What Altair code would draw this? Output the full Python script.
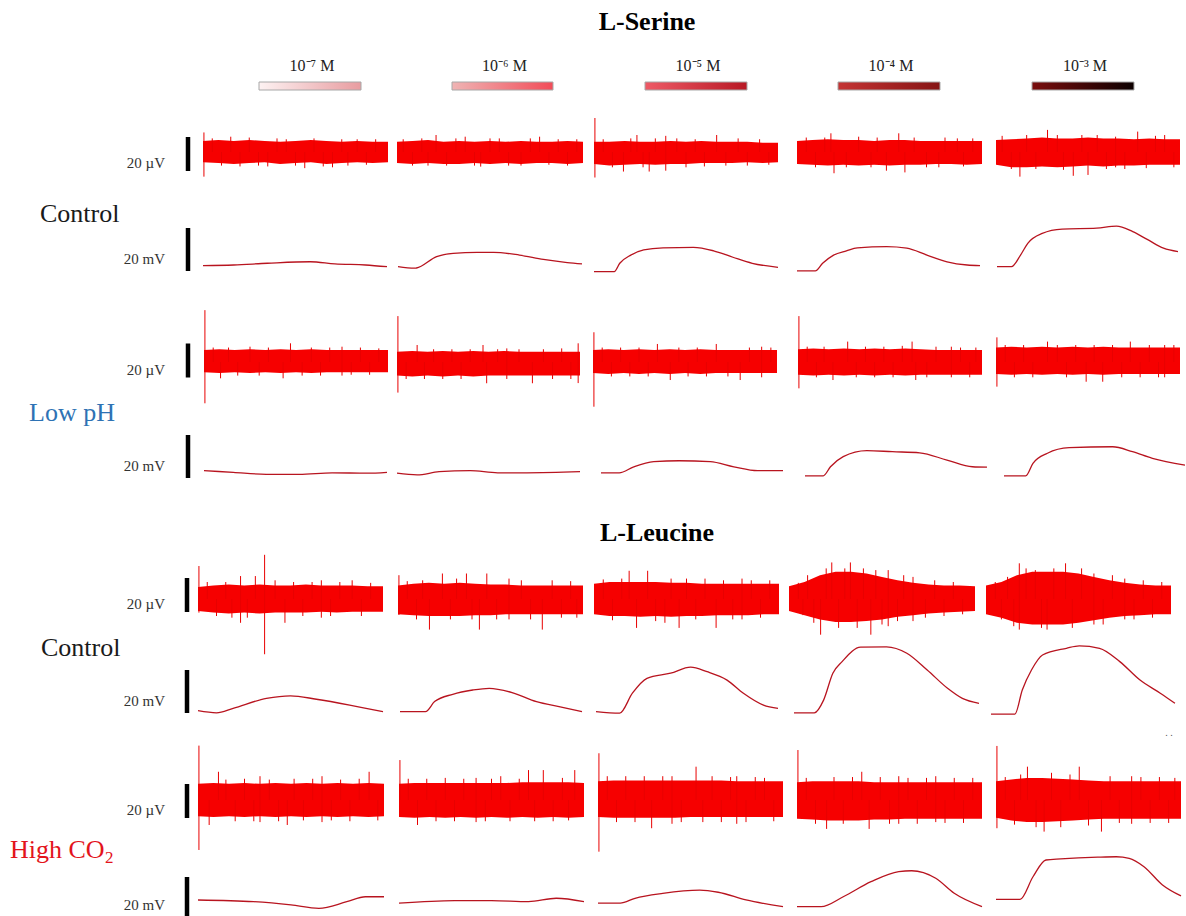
import altair as alt
import pandas as pd

# ------------------------------------------------------------------ data
T_END = 60  # s, length of every recording window
AMINO_ACIDS = ["L-Serine", "L-Leucine"]
CONCENTRATIONS = ["10⁻⁷ M", "10⁻⁶ M", "10⁻⁵ M", "10⁻⁴ M", "10⁻³ M"]
CONDITIONS = ["Control", "Low pH", "Control", "High CO"]
SCALE_UV = 20   # µV scale bar
SCALE_MV = 20   # mV scale bar

ENV_T = [0, 5, 10, 15, 20, 25, 30, 35, 40, 45, 50, 55, 60]

# ---- EOA (µV): upper / lower envelope of the noise band, and spikes (t, top, bottom)
SER_CTRL_EOA_UP = [
    [6.5, 7, 6.5, 7, 6.5, 6, 6.5, 7, 6.5, 6, 6.5, 6, 6],
    [6, 6.5, 7, 6, 6.5, 6, 6.5, 6, 6.5, 6, 6, 6.5, 6],
    [6, 6, 6.5, 6, 6, 6.5, 6, 6.5, 6, 6, 6, 5.5, 5.5],
    [6.5, 7, 7.5, 7, 7, 6.5, 7, 7, 6.5, 6.5, 6.5, 6.5, 6.5],
    [7, 7.5, 8, 8.5, 8, 8, 8.5, 8, 8, 7.5, 8, 7.5, 7.5],
]
SER_CTRL_EOA_LO = [
    [-6, -6.5, -7, -6.5, -6, -7, -6.5, -6, -7, -6.5, -6, -6.5, -6],
    [-6.5, -7, -6.5, -7, -7, -6.5, -7, -6.5, -7, -6.5, -6.5, -7, -6.5],
    [-7, -8, -7.5, -7, -7.5, -7, -7, -6.5, -6.5, -6.5, -6, -6.5, -6],
    [-7, -7.5, -8, -7.5, -8, -7.5, -8, -7.5, -7.5, -7, -7, -7.5, -7],
    [-7.5, -9, -9, -8.5, -9, -8.5, -8, -8.5, -8, -8, -7.5, -7.5, -7.5],
]
SER_CTRL_EOA_SPIKES = [
    [(0.3, 11.5, -14.5), (3, 8, 0), (6, 0, -8), (9, 9, 0), (12, 0, -8.5), (15, 8.5, 0), (18, 0, -8), (21, 0, -8.5),
     (24, 8, 0), (27, 7.5, 0), (30, 0, -8), (33, 0, -9.5), (36, 8, 0), (39, 0, -8.5), (42, 0, -9), (45, 7.5, 0),
     (47, 0, -8), (50, 7.5, 0), (53, 0, -7.5), (56, 7.5, 0)],
    [(2, 7.5, 0), (5, 0, -8), (8, 8, 0), (10, 0, -8), (12.6, 10, 0), (16, 0, -8), (19, 8, 0), (22, 9, 0), (25, 0, -8),
     (27, 0, -8.6), (30, 8, 0), (33, 8, 0), (36, 0, -8), (40, 0, -8), (43, 8, 0), (46, 9, 0), (49, 0, -7.5),
     (52, 7.5, 0), (55, 0, -8), (58, 7.5, 0)],
    [(0.3, 20, -15), (3, 7.5, 0), (6, 0, -9), (9.6, 0, -11.5), (12, 8, 0), (14, 10, 0), (16, 0, -9), (18, 0, -11.5),
     (20, 8, 0), (23.4, 9.5, -11), (27, 8, 0), (30, 0, -9), (33, 7.5, 0), (36, 0, -8.5), (40, 10, 0), (43, 0, -8),
     (47, 8, 0), (50, 0, -8), (54, 7.5, 0), (57, 0, -7.5)],
    [(3, 8.5, 0), (6, 0, -9), (9, 8.5, 0), (11, 11, 0), (12, 0, -12.5), (16, 0, -9), (20, 9, 0), (24, 0, -9),
     (26, 8.5, 0), (29, 0, -11), (33, 11, 0), (35, 0, -12), (38, 8.5, 0), (42, 0, -9), (46, 0, -9), (48, 8.5, 0),
     (52, 8, 0), (54, 0, -8.5), (57, 8, 0)],
    [(2, 9.5, 0), (5, 0, -10), (7.8, 0, -14.5), (10, 10, 0), (13, 0, -10), (16.8, 13, 0), (20, 10, 0), (22, 0, -10.5),
     (25.2, 0, -14), (28, 10, 0), (30, 0, -13.5), (33, 10, 0), (36, 0, -10), (39, 9, -9), (42, 0, -10),
     (46.2, 12, 0), (49, 0, -9.5), (52, 9.5, 0), (55, 10, 0), (58, 0, -9)],
]

LOWPH_EOA_UP = [
    [7, 7.5, 7, 7.5, 7, 7.5, 7, 7.5, 7, 7, 7, 7, 7],
    [6, 6.5, 6, 6.5, 6, 6.5, 6, 6.5, 6, 6, 6, 6, 6],
    [7, 7.5, 7, 7.5, 7, 7.5, 7, 7.5, 7, 7, 7, 7, 7],
    [7.5, 8, 7.5, 8, 7.5, 8, 7.5, 8, 7.5, 7, 7, 7, 7],
    [8.5, 9, 8.5, 9, 8.5, 9, 8.5, 9, 8.5, 8.5, 8.5, 8.5, 8.5],
]
LOWPH_EOA_LO = [
    [-6, -6.5, -6, -6.5, -6, -6.5, -6, -6.5, -6, -6, -6, -6, -6],
    [-8, -8.5, -8, -8.5, -8, -8.5, -8, -8, -8, -8, -8, -8, -8],
    [-6.5, -7, -6.5, -7, -6.5, -7, -6.5, -7, -6.5, -6.5, -6.5, -6.5, -6.5],
    [-7.5, -8, -7.5, -8, -7.5, -8, -7.5, -8, -7.5, -7.5, -7.5, -7.5, -7.5],
    [-7, -7.5, -7, -7.5, -7, -7.5, -7, -7.5, -7, -7, -7, -7, -7],
]
LOWPH_EOA_SPIKES = [
    [(0.3, 30.5, -24.3), (3, 8.5, 0), (5.4, 0, -9.6), (8, 8.5, 0), (11, 0, -8), (15, 9, 0), (18, 0, -8),
     (21, 8.5, 0), (25.8, 0, -9.6), (28.2, 11, 0), (32, 0, -8), (35, 8.5, 0), (38, 0, -8), (41, 8.5, 0),
     (45, 9, -8), (48, 0, -7.5), (51, 8.5, 0), (54, 0, -7.5), (57, 8, 0)],
    [(0.3, 27, -18), (3, 0, -10), (6.6, 10, 0), (9, 0, -10), (12, 7.5, 0), (15, 0, -10), (18, 7.5, 0), (21, 0, -10),
     (24, 7.5, 0), (28.2, 10, 0), (29.4, 0, -12.5), (33, 7.5, 0), (36, 8, -10), (40, 7.5, 0), (44.4, 0, -12.5),
     (48, 7.5, 0), (51, 0, -10), (54, 8, 0), (57, 0, -10), (59.4, 11, -12.4)],
    [(0.3, 17.5, -26.3), (3, 8.5, 0), (6, 0, -8.5), (9, 8.5, 0), (12, 0, -8.5), (15, 8.5, 0), (18, 0, -8.5),
     (21, 10.6, 0), (25.2, 0, -10.6), (28, 8.5, 0), (31, 0, -8.5), (34, 8.5, 0), (37, 0, -8.5), (40.2, 10.6, 0),
     (44, 0, -8.5), (48, 0, -10.6), (51, 8.5, 0), (55, 9, -9), (58, 8.5, 0)],
    [(0.3, 27, -15.5), (3, 9, 0), (6, 0, -9), (8.5, 9, 0), (11.4, 0, -10.6), (16.2, 12, 0), (19, 0, -9),
     (22, 9, 0), (25, 0, -9), (28, 9, 0), (31, 0, -9), (34, 9.5, 0), (37.2, 12, 0), (38.4, 0, -10.6), (42, 0, -9),
     (45, 9, 0), (50, 9, -9), (53, 8.5, 0), (56, 0, -9), (58, 8.5, 0)],
    [(0.3, 14.5, -14.5), (3, 10, 0), (6, 0, -9), (9, 10, 0), (12, 0, -9), (16.8, 12, 0), (20, 10, 0), (23, 0, -9),
     (26, 10, 0), (29.4, 0, -11.6), (32, 10, 0), (34.8, 0, -11.6), (38, 10, 0), (41, 0, -9), (43.8, 12, 0),
     (47, 0, -9), (50, 10, 0), (53, 0, -9), (55, 10, -9), (58, 10, 0)],
]

LEU_CTRL_EOA_UP = [
    [7, 8, 8.5, 8, 8.5, 8, 8, 8.5, 8, 8, 8, 7.5, 7.5],
    [8, 9, 9.5, 9, 9.5, 9, 8.5, 8.5, 8, 8, 8, 8, 8],
    [9, 10, 10, 10, 10, 9.5, 9.5, 9, 9, 9, 9, 9, 9],
    [7.5, 10, 14, 16, 16, 15, 13, 11, 9.5, 8.5, 8, 8, 7.5],
    [8, 10, 14, 16, 16, 16, 15, 13, 11, 9.5, 8.5, 8, 8],
]
LEU_CTRL_EOA_LO = [
    [-7, -8, -8.5, -8, -8.5, -8, -8, -8, -7.5, -8, -7.5, -7.5, -7.5],
    [-9, -9.5, -10, -10, -10, -9.5, -9.5, -9, -9, -9, -9, -9, -9],
    [-9, -10, -10, -10.5, -10, -10.5, -10, -10, -9.5, -9.5, -9.5, -9, -9],
    [-7, -9.5, -12, -13.5, -13.5, -13, -12, -10.5, -9.5, -8.5, -8, -7.5, -7],
    [-9, -11, -14, -15, -15, -15, -14, -12.5, -11, -10, -9.5, -9, -9],
]
LEU_CTRL_EOA_SPIKES = [
    [(0.3, 19.4, -8), (3, 10, 0), (6, 0, -10), (9, 10, 0), (11, 0, -11), (13.8, 13.5, -14), (16, 0, -11),
     (18.6, 13.5, 0), (21.6, 26, -32.5), (25, 11, 0), (28.2, 0, -14), (31, 10, 0), (34, 0, -10), (37, 10, 0),
     (40, 11, -11), (43, 0, -10), (46, 10, 0), (50, 11, 0), (53, 0, -10), (56, 9.5, 0)],
    [(0.3, 14, -9.4), (3, 10.5, 0), (6, 0, -12), (8, 11, 0), (10.2, 0, -18), (14.4, 15, 0), (17, 0, -12),
     (19, 12, 0), (22.2, 15, 0), (24, 0, -12), (26.4, 0, -18), (28.8, 15, 0), (32, 0, -12), (36, 12, -12),
     (40, 11, 0), (43, 0, -12), (46.8, 0, -18), (50, 11, 0), (53, 0, -11), (56, 10.5, 0), (58, 0, -11)],
    [(3, 11.5, 0), (6, 0, -12.5), (9, 12, 0), (11.4, 16.6, 0), (13.8, 0, -17), (17.4, 16.6, 0), (20, 0, -13),
     (23, 0, -14), (25, 12, 0), (27.6, 0, -17), (30, 12, 0), (33, 0, -12), (36, 12, 0), (39.6, 0, -17),
     (42, 11, 0), (45, 0, -12), (48, 12, -12), (51, 11, 0), (54, 0, -11), (57, 11, 0)],
    [(3, 9.5, 0), (4.5, 0, -9.5), (6, 14, 0), (8, 0, -14), (10.2, 0, -21), (12, 18, 0), (13.8, 21.5, 0),
     (16, 0, -17), (18, 18, 0), (19.8, 21.5, 0), (22, 0, -17), (24, 18, 0), (26.4, 0, -21), (28, 17, 0),
     (30, 0, -15), (32, 17, -16), (35, 0, -13), (37, 14, 0), (40, 13, -13), (44, 0, -11), (47, 11, 0),
     (50, 0, -10), (53, 10, 0), (56, 0, -9)],
    [(3, 10, 0), (5, 0, -12), (7, 13, 0), (9, 0, -16), (10.8, 21, -18), (13, 18, 0), (16, 17, 0), (18, 0, -17),
     (19.8, 0, -18), (22, 18, 0), (25.8, 21, 0), (28, 0, -17), (31, 18, 0), (35, 15, -15), (38, 0, -15),
     (41, 14, 0), (45, 12, -12), (48, 0, -12), (51, 11, 0), (54, 0, -11), (57, 10, 0)],
]

HICO2_EOA_UP = [
    [9.5, 10, 9.5, 10, 9.5, 10, 9.5, 10, 9.5, 10, 9.5, 10, 9.5],
    [9.5, 10, 10, 10, 10, 10, 10, 10, 10.5, 10.5, 10.5, 10.5, 10],
    [11, 11.5, 11.5, 11.5, 11.5, 11.5, 11.5, 11.5, 11.5, 11, 11, 11, 11],
    [10.5, 11, 11, 11, 11, 10.5, 10.5, 10.5, 10.5, 10.5, 10.5, 10.5, 10.5],
    [11, 12, 13, 13, 12.5, 12, 11.5, 11, 11, 11, 11, 11, 11],
]
HICO2_EOA_LO = [
    [-9.5, -10, -9.5, -10, -9.5, -10, -9.5, -10, -9.5, -10, -9.5, -10, -9.5],
    [-10, -10.5, -10, -10.5, -10, -10.5, -10, -10.5, -10, -10.5, -10, -10.5, -10],
    [-10, -10.5, -10.5, -10.5, -10.5, -10.5, -10, -10, -10, -10, -10, -10, -10],
    [-11, -11.5, -12, -12, -12, -11.5, -11.5, -11, -11, -11, -11, -11, -11],
    [-10.5, -12, -13, -13, -12.5, -12, -11.5, -11, -11, -11, -11, -11, -11],
]
HICO2_EOA_SPIKES = [
    [(0.3, 32, -29.4), (3.6, 0, -14.7), (6.6, 16.6, 0), (9, 12, 0), (12, 0, -12.5), (15, 12.5, 0), (18, 0, -12.5),
     (20, 14, -13), (23, 12, 0), (26, 0, -12.5), (28.8, 0, -14.7), (31, 12.5, 0), (34, 0, -12), (37, 12.5, 0),
     (40, 14, -13), (43, 0, -12), (46, 12, 0), (49, 0, -12.5), (52, 12.5, 0), (55.2, 16.6, 0), (58, 0, -12)],
    [(0.3, 23.5, 0), (3, 12.5, 0), (6, 0, -14.7), (9, 12.5, 0), (12, 0, -12.5), (15, 13, 0), (18, 0, -12.5),
     (21, 12.5, 0), (25, 13, -13), (28, 0, -12.5), (30, 12.5, 0), (33, 14, 0), (36, 0, -12.5), (39, 12.5, 0),
     (42, 17.6, 0), (44, 0, -12.5), (46.8, 17.6, 0), (50, 0, -12.5), (53, 13, 0), (55, 0, -12), (57, 17.6, 0)],
    [(0.3, 27.5, -30.4), (3, 14, 0), (6, 0, -13), (9, 14, 0), (12, 0, -13), (15, 14, 0), (17.4, 0, -16.6),
     (21, 14, 0), (24, 14, -14), (27, 0, -13), (31.8, 19.6, 0), (34, 0, -13), (37, 14, 0), (40, 0, -13),
     (43, 13.5, 0), (45, 14, -14), (48, 0, -13), (51, 13.5, 0), (54, 13, 0), (57, 0, -12.5)],
    [(0.3, 29.4, 0), (3, 13, 0), (6, 0, -14), (9.6, 0, -17), (12, 13.5, 0), (15, 0, -14), (18, 13.5, 0),
     (21, 16.6, 0), (23.4, 0, -17), (27, 13.5, 0), (30, 0, -14), (33, 14, -14), (36, 13, 0), (39, 0, -14),
     (42, 13, 0), (45, 14, -13), (48, 0, -13.5), (51, 13, 0), (54, 0, -13.5), (57, 13, 0)],
    [(0.3, 31.8, -16.6), (3, 13.5, 0), (6, 0, -14.5), (8, 15, 0), (10.2, 19.6, 0), (13, 0, -16), (15.6, 0, -18.6),
     (18, 16, 0), (21, 0, -16), (24, 15, 0), (27, 19.6, 0), (30, 0, -15), (34.2, 0, -18.6), (37, 14, 0),
     (40, 0, -13.5), (44, 14, -14), (47, 13.5, 0), (50, 0, -13.5), (53, 13.5, 0), (56, 0, -13.5), (58, 13, 0)],
]

# ---- EOG (mV): (times in s, potential in mV)
SER_CTRL_EOG = [
    ([0, 10, 21, 35, 43, 53, 60], [1.1, 1.4, 2.2, 2.9, 1.9, 1.4, 0.6]),
    ([0, 5.4, 6, 12.6, 18, 25.8, 31.2, 39.6, 47.4, 55.2, 60], [0.6, -0.1, 0, 5.3, 6.8, 7.3, 7.3, 6.0, 4.0, 2.5, 1.9]),
    ([0, 6.6, 8.4, 12, 16.2, 22.5, 32.4, 39, 45.3, 51.6, 60], [-1.7, -1.7, 2.2, 6.0, 8.4, 9.4, 9.6, 8.0, 5.0, 2.2, 0.3]),
    ([0, 6, 8.4, 12, 16.2, 19.8, 29.4, 36, 42.6, 49.2, 55.8, 60], [-1.3, -1.3, 2.2, 6.0, 8.0, 9.4, 9.9, 9.2, 6.0, 2.9, 1.4, 1.1]),
    ([0, 4.8, 7.8, 10.2, 15, 21.6, 33, 39.6, 45, 49.8, 55.2, 60], [0.6, 0.6, 6.0, 11.5, 16.1, 18.1, 18.5, 19.5, 16.9, 13.3, 9.2, 7.6]),
]
LOWPH_EOG = [
    ([0, 9.6, 20.4, 31.2, 42, 53.4, 60], [1.1, 0.3, -0.6, -0.6, 0.1, -0.1, 0.3]),
    ([0, 6.6, 13.8, 24, 33, 42.6, 60], [-0.1, -0.9, 0.6, 1.1, 0.1, 0.1, 0.6]),
    ([0, 6, 10.8, 17.4, 25.8, 36, 43.8, 51.6, 60], [0.1, 0.1, 2.9, 5.3, 5.7, 5.3, 2.9, 1.1, 1.1]),
    ([0, 6, 8.4, 12.6, 20.4, 28.8, 37.8, 46.8, 55.2, 60], [-1.3, -1.3, 2.9, 7.6, 10.4, 9.9, 9.4, 6.0, 2.9, 2.7]),
    ([0, 7.2, 9.6, 14.4, 21.6, 36, 42.6, 49.2, 60], [-1.3, -1.3, 4.5, 9.2, 11.8, 12.2, 9.9, 6.8, 3.7]),
]
LEU_CTRL_EOG = [
    ([0, 6, 11.4, 22.2, 30, 38.4, 49.2, 60], [1.1, 0.1, 2.2, 6.8, 8.0, 6.4, 3.7, 0.6]),
    ([0, 8.4, 11.4, 17.4, 24, 29.4, 37.2, 45, 52.8, 60], [0.6, 0.6, 5.3, 8.7, 10.7, 11.5, 9.4, 5.3, 2.9, 0.6]),
    ([0, 7.8, 12, 16.8, 24.6, 31.2, 36.6, 43.2, 48.6, 55.2, 60], [0.6, -0.1, 9.2, 16.1, 18.5, 21.3, 19.2, 15.3, 9.2, 3.7, 2.2]),
    ([0, 6.6, 9.6, 12.6, 15.6, 21.6, 30, 36.6, 43.2, 49.8, 54.6, 60], [0.1, 0.1, 6.0, 18.5, 23.9, 30.6, 30.8, 27.8, 20.0, 11.5, 6.8, 4.5]),
    ([0, 7.8, 10.2, 13.2, 16.8, 24.6, 28.8, 35.4, 42, 48.6, 55.2, 60], [-0.5, -0.5, 10.7, 20.0, 27.0, 30.1, 31.2, 30.1, 23.9, 15.3, 9.2, 4.5]),
]
HICO2_EOG = [
    ([0, 18, 30, 39, 48, 54, 60], [2.8, 2.0, 0.5, -1.1, 2.0, 4.3, 4.3]),
    ([0, 18, 30, 42, 51, 60], [1.3, 2.5, 2.5, 2.0, 3.6, 2.0]),
    ([0, 7.2, 12, 21, 33, 39, 48, 60], [1.3, 1.3, 3.6, 5.9, 7.4, 6.4, 2.8, -0.3]),
    ([0, 7.8, 15, 24, 33, 37.2, 45, 51, 60], [-0.3, -0.3, 4.3, 11.3, 16.0, 16.4, 12.9, 5.9, -0.3]),
    ([0, 7.8, 12, 16.2, 21, 33, 39, 43.2, 48, 54, 60], [3.1, 3.1, 13.6, 21.4, 21.9, 22.7, 22.9, 22.2, 18.3, 9.8, 4.7]),
]

# ------------------------------------------------------------------ layout (canvas units)
W, H = 1186, 916
PX_UV = 1.7     # canvas units per µV
PX_MV = 2.15    # canvas units per mV

EOA_ROWS = [  # (up, lo, spikes, centre y, spans, scale-bar centre, scale-bar x)
    (SER_CTRL_EOA_UP, SER_CTRL_EOA_LO, SER_CTRL_EOA_SPIKES, 152,
     [(203, 388), (397, 583), (594, 778), (797, 982), (996, 1180)], 154, 188),
    (LOWPH_EOA_UP, LOWPH_EOA_LO, LOWPH_EOA_SPIKES, 362,
     [(204, 388), (397, 580), (593, 777), (798, 982), (996, 1180)], 360.5, 188),
    (LEU_CTRL_EOA_UP, LEU_CTRL_EOA_LO, LEU_CTRL_EOA_SPIKES, 599,
     [(198, 383), (398, 583), (594, 779), (789, 975), (986, 1171)], 595, 187),
    (HICO2_EOA_UP, HICO2_EOA_LO, HICO2_EOA_SPIKES, 800,
     [(198, 384), (399, 584), (598, 783), (797, 982), (996, 1181)], 801, 187),
]
EOG_ROWS = [  # (traces, reference y, spans, scale-bar bottom, scale-bar x)
    (SER_CTRL_EOG, 268, [(203, 387), (398, 582), (594, 778), (797, 980), (997, 1178)], 271, 188),
    (LOWPH_EOG, 473, [(204, 387), (397, 580), (601, 783), (805, 987), (1004, 1185)], 478, 188),
    (LEU_CTRL_EOG, 713, [(198, 383), (400, 582), (596, 778), (794, 979), (991, 1175)], 713, 187),
    (HICO2_EOG, 906, [(198, 384), (399, 584), (598, 783), (797, 982), (996, 1181)], 920, 187),
]


def tx(t, span):
    return span[0] + t / T_END * (span[1] - span[0])


band, spikes, eog, bars, small_labels = [], [], [], [], []
for r, (ups, los, sps, yc, spans, bc, bx) in enumerate(EOA_ROWS):
    for c in range(5):
        tid = f"eoa{r}{c}"
        for t, u, l in zip(ENV_T, ups[c], los[c]):
            band.append({"x": tx(t, spans[c]), "y": yc - u * PX_UV, "y2": yc - l * PX_UV, "trace": tid})
        for t, top, bot in sps[c]:
            spikes.append({"x": tx(t, spans[c]), "y": yc - top * PX_UV, "y2": yc - bot * PX_UV})
    half = SCALE_UV / 2 * PX_UV
    bars.append({"x": bx, "y": bc - half, "y2": bc + half})
    small_labels.append({"x": 165, "y": bc + half - 8, "text": f"{SCALE_UV} µV"})

for r, (traces, yref, spans, bb, bx) in enumerate(EOG_ROWS):
    for c, (ts, vs) in enumerate(traces):
        tid = f"eog{r}{c}"
        for t, v in zip(ts, vs):
            eog.append({"x": tx(t, spans[c]), "y": yref - v * PX_MV, "trace": tid})
    bars.append({"x": bx, "y": bb - SCALE_MV * PX_MV, "y2": bb})
    small_labels.append({"x": 165, "y": bb - 12 if r < 3 else 905, "text": f"{SCALE_MV} mV"})

band_df = pd.DataFrame(band)
spike_df = pd.DataFrame(spikes)
eog_df = pd.DataFrame(eog)
bar_df = pd.DataFrame(bars)
small_df = pd.DataFrame(small_labels)

XS = alt.Scale(domain=[0, W], range=[0, W], nice=False, zero=False)
YS = alt.Scale(domain=[0, H], range=[0, H], nice=False, zero=False)


def X(f="x"):
    return alt.X(f"{f}:Q", scale=XS, axis=None)


def Y(f="y"):
    return alt.Y(f"{f}:Q", scale=YS, axis=None)


def text_layer(df, **mark):
    return alt.Chart(df).mark_text(baseline="middle", **mark).encode(x=X(), y=Y(), text="text:N")


layers = []
layers.append(alt.Chart(band_df).mark_area(color="#f60000", interpolate="linear").encode(
    x=X(), y=Y(), y2="y2:Q", detail="trace:N"))
layers.append(alt.Chart(spike_df).mark_rule(color="#e80000", strokeWidth=1).encode(
    x=X(), y=Y(), y2="y2:Q"))
layers.append(alt.Chart(eog_df).mark_line(color="#b8141f", strokeWidth=1.3, interpolate="monotone").encode(
    x=X(), y=Y(), detail="trace:N"))
layers.append(alt.Chart(bar_df).mark_rule(color="black", strokeWidth=4.5).encode(
    x=X(), y=Y(), y2="y2:Q"))
layers.append(text_layer(small_df, font="Liberation Serif", fontSize=15, color="#333333", align="right"))

# titles
title_df = pd.DataFrame({"x": [647, 657], "y": [22, 533], "text": AMINO_ACIDS})
layers.append(text_layer(title_df, font="Liberation Serif", fontSize=26, fontWeight="bold",
                         color="black", align="center"))

# concentration labels and gradient bars
BAR_SPANS = [(259, 361), (452, 553), (645, 747), (838, 940), (1032, 1134)]
GRADS = [("#fdf2f2", "#e89ca0"), ("#efb4b4", "#f24c58"), ("#ee5a66", "#b81824"),
         ("#c43434", "#861414"), ("#7a0e0e", "#0c0000")]
conc_df = pd.DataFrame({"x": [(a + b) / 2 + 2 for a, b in BAR_SPANS], "y": [66] * 5, "text": CONCENTRATIONS})
layers.append(text_layer(conc_df, font="Liberation Serif", fontSize=16, color="#222222", align="center"))
for (a, b), (c0, c1) in zip(BAR_SPANS, GRADS):
    rdf = pd.DataFrame({"x": [a], "x2": [b], "y": [82], "y2": [90]})
    layers.append(alt.Chart(rdf).mark_rect(
        fill={"gradient": "linear", "x1": 0, "x2": 1, "y1": 0, "y2": 0,
              "stops": [{"offset": 0, "color": c0}, {"offset": 1, "color": c1}]},
        stroke="#a8a8a8", strokeWidth=1).encode(x=X(), x2="x2:Q", y=Y(), y2="y2:Q"))

# condition labels
COND_POS = [(40, 214, "#1a1a1a"), (29, 413, "#2e72b4"), (41, 648, "#1a1a1a"), (10, 850, "#e3141c")]
for name, (x, y, col) in zip(CONDITIONS, COND_POS):
    cdf = pd.DataFrame({"x": [x], "y": [y], "text": [name]})
    layers.append(text_layer(cdf, font="Liberation Serif", fontSize=26, align="left", color=col))
sub_df = pd.DataFrame({"x": [105], "y": [858], "text": ["2"]})
layers.append(text_layer(sub_df, font="Liberation Serif", fontSize=17, align="left", color="#e3141c"))
dot_df = pd.DataFrame({"x": [1169], "y": [733], "text": [".   ."]})
layers.append(text_layer(dot_df, font="Liberation Serif", fontSize=10, align="center", color="#555555"))

chart = alt.layer(*layers).properties(
    width=W, height=H, padding=0, autosize=alt.AutoSizeParams(type="none"),
    background="white"
).configure_view(stroke=None)

chart.save("out.html", embed_options={"renderer": "svg", "actions": False})
